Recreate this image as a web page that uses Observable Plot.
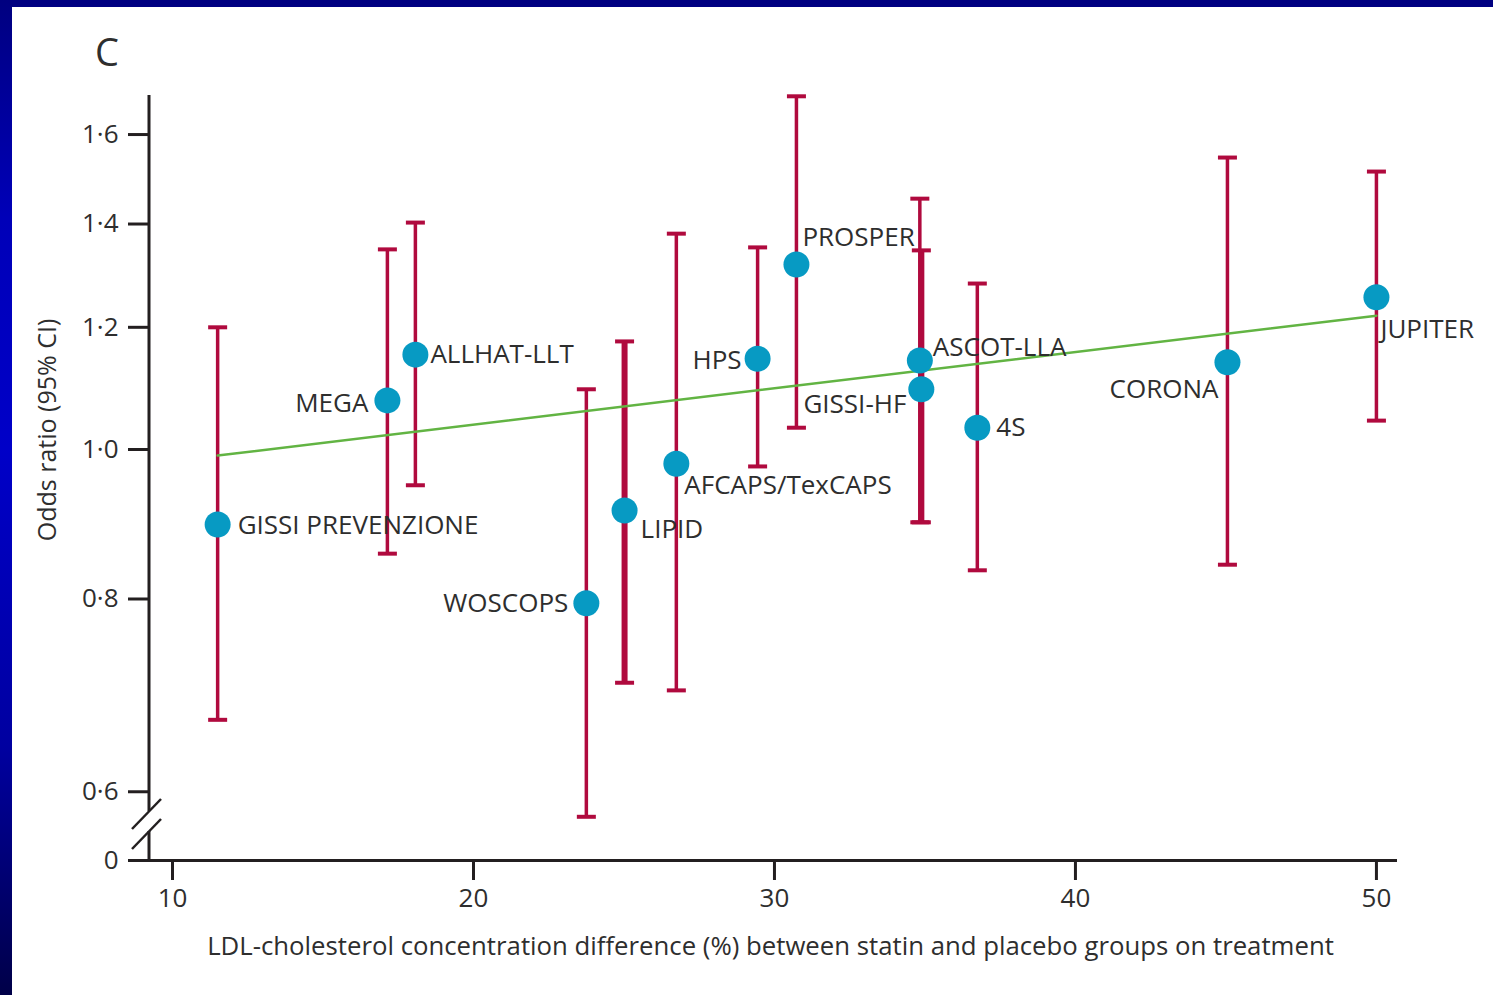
<!DOCTYPE html>
<html>
<head>
<meta charset="utf-8">
<script src="https://cdn.jsdelivr.net/npm/d3@7"></script>
<script src="https://cdn.jsdelivr.net/npm/@observablehq/plot@0.6"></script>
<style>
  html, body { margin: 0; padding: 0; width: 1493px; height: 995px; overflow: hidden; }
  body { background: linear-gradient(to bottom, #000080 0%, #0000b8 22%, #0000c8 45%, #0000a0 75%, #000048 100%); position: relative; }
  #panel { position: absolute; left: 12px; top: 7px; width: 1481px; height: 988px; background: #ffffff; }
  #panel svg { display: block; background: transparent; }
</style>
</head>
<body>
<div id="panel"></div>
<script>
// ---------------- data ----------------
const studies   = ["GISSI PREVENZIONE", "MEGA", "ALLHAT-LLT", "WOSCOPS", "LIPID", "AFCAPS/TexCAPS", "HPS", "PROSPER", "ASCOT-LLA", "GISSI-HF", "4S", "CORONA", "JUPITER"];
const ldlDiff   = [11.5, 17.14, 18.07, 23.75, 25.02, 26.74, 29.44, 30.73, 34.83, 34.88, 36.74, 45.05, 50.0];
const oddsRatio = [0.894, 1.076, 1.152, 0.795, 0.913, 0.979, 1.145, 1.318, 1.142, 1.094, 1.033, 1.139, 1.255];
const ciLower   = [0.668, 0.856, 0.948, 0.578, 0.706, 0.698, 0.975, 1.033, 0.897, 0.897, 0.835, 0.842, 1.044];
const ciUpper   = [1.200, 1.348, 1.403, 1.094, 1.175, 1.380, 1.352, 1.694, 1.454, 1.346, 1.281, 1.546, 1.514];

const regressionX  = [11.5, 50.0];
const regressionOR = [0.991, 1.221];

const xTicks = [10, 20, 30, 40, 50];
const yTicks = [0.6, 0.8, 1.0, 1.2, 1.4, 1.6];
const xDomain = [9.236, 50.7];
const yDomain = [0.5415, 1.696];   // bottom of the broken axis is labelled "0"

const panelLetter = "C";
const xTitle = "LDL-cholesterol concentration difference (%) between statin and placebo groups on treatment";
const yTitle = "Odds ratio (95% CI)";

// ---------------- styling / placement (not data) ----------------
const BLUE = "#079ac3", RED = "#b00a3e", GREEN = "#62b443", INK = "#231f20", TEXT = "#2e2e2e";
const FONT = "'Open Sans', 'Noto Sans', sans-serif";
const thickBars = new Set(["LIPID", "GISSI-HF"]);
const labelPlacement = {
  "GISSI PREVENZIONE": ["start", 20, 1],
  "MEGA":              ["end",  -19, 3],
  "ALLHAT-LLT":        ["start", 15, 0],
  "WOSCOPS":           ["end",  -18, 0],
  "LIPID":             ["start", 16, 19],
  "AFCAPS/TexCAPS":    ["start", 8, 22],
  "HPS":               ["end",  -16, 2],
  "PROSPER":           ["start", 6, -27],
  "ASCOT-LLA":         ["start", 13, -13],
  "GISSI-HF":          ["end",  -15, 15],
  "4S":                ["start", 19, 0],
  "CORONA":            ["end",   -9, 27],
  "JUPITER":           ["start", 4, 32]
};

// ---------------- build tables ----------------
const rows = studies.map((s, i) => ({study: s, x: ldlDiff[i], or: oddsRatio[i], lo: ciLower[i], hi: ciUpper[i]}));
const regression = regressionX.map((x, i) => ({x, or: regressionOR[i]}));
const capSymbol = {draw(ctx, size) { const r = Math.sqrt(size / Math.PI); ctx.moveTo(-r, 0); ctx.lineTo(r, 0); }};
const fmt = d => (d === yDomain[0] ? "0" : d.toFixed(1).replace(".", "\u00b7"));

const thin = rows.filter(d => !thickBars.has(d.study));
const thick = rows.filter(d => thickBars.has(d.study));

const labelMarks = rows.map(d => {
  const [anchor, dx, dy] = labelPlacement[d.study];
  return Plot.text([d], {x: "x", y: "or", text: "study", textAnchor: anchor, dx, dy,
    fontSize: 26, fill: TEXT, fontFamily: FONT});
});

const plot = Plot.plot({
  width: 1481, height: 988,
  marginLeft: 137, marginRight: 96, marginTop: 88, marginBottom: 135,
  style: {fontFamily: FONT, color: INK, background: "transparent", overflow: "visible"},
  x: {domain: xDomain},
  y: {type: "log", domain: yDomain},
  marks: [
    Plot.axisX({ticks: xTicks, tickSize: 20, tickPadding: 8, strokeWidth: 3, fontSize: 26, fill: TEXT, label: null}),
    Plot.axisY({ticks: [yDomain[0], ...yTicks], tickSize: 21, tickPadding: 10, strokeWidth: 3, fontSize: 26, fill: TEXT, tickFormat: fmt, label: null}),
    Plot.ruleY([yDomain[0]], {stroke: INK, strokeWidth: 3}),
    // error bars
    Plot.ruleX(thin, {x: "x", y1: "lo", y2: "hi", stroke: RED, strokeWidth: 3.5}),
    Plot.ruleX(thick, {x: "x", y1: "lo", y2: "hi", stroke: RED, strokeWidth: 6}),
    Plot.dot(rows, {x: "x", y: "lo", symbol: capSymbol, r: 9.5, fill: "none", stroke: RED, strokeWidth: 4}),
    Plot.dot(rows, {x: "x", y: "hi", symbol: capSymbol, r: 9.5, fill: "none", stroke: RED, strokeWidth: 4}),
    // meta-regression line
    Plot.line(regression, {x: "x", y: "or", stroke: GREEN, strokeWidth: 2.5}),
    // point estimates
    Plot.dot(rows, {x: "x", y: "or", r: 13, fill: BLUE}),
    ...labelMarks,
    // x-axis title
    Plot.text([xTitle], {frameAnchor: "bottom", dy: 94, dx: -3, fontSize: 25.75, fill: TEXT, fontFamily: FONT})
  ]
});

// broken y-axis line, y-axis title and panel letter
const svg = d3.select(plot);
const xs = plot.scale("x"), ys = plot.scale("y");
const ax = xs.apply(xDomain[0]);
const yb = ys.apply(yDomain[0]);
const yt = ys.apply(yDomain[1]);
const g = svg.append("g").attr("stroke", INK).attr("fill", "none");
g.append("line").attr("x1", ax).attr("x2", ax).attr("y1", yt).attr("y2", yb - 49).attr("stroke-width", 3);
g.append("line").attr("x1", ax).attr("x2", ax).attr("y1", yb - 29).attr("y2", yb).attr("stroke-width", 3);
g.append("line").attr("x1", ax - 17).attr("y1", yb - 31).attr("x2", ax + 12).attr("y2", yb - 61).attr("stroke-width", 2.5);
g.append("line").attr("x1", ax - 17).attr("y1", yb - 11).attr("x2", ax + 12).attr("y2", yb - 41).attr("stroke-width", 2.5);
svg.append("text")
  .attr("transform", `translate(${ax - 93},423) rotate(-90)`)
  .attr("text-anchor", "middle")
  .attr("font-size", 25).attr("font-family", FONT).attr("fill", TEXT)
  .text(yTitle);
svg.append("text").attr("x", 95).attr("y", 59).attr("font-size", 38).attr("font-family", FONT)
  .attr("fill", TEXT).text(panelLetter);

document.getElementById("panel").appendChild(plot);
</script>
</body>
</html>
